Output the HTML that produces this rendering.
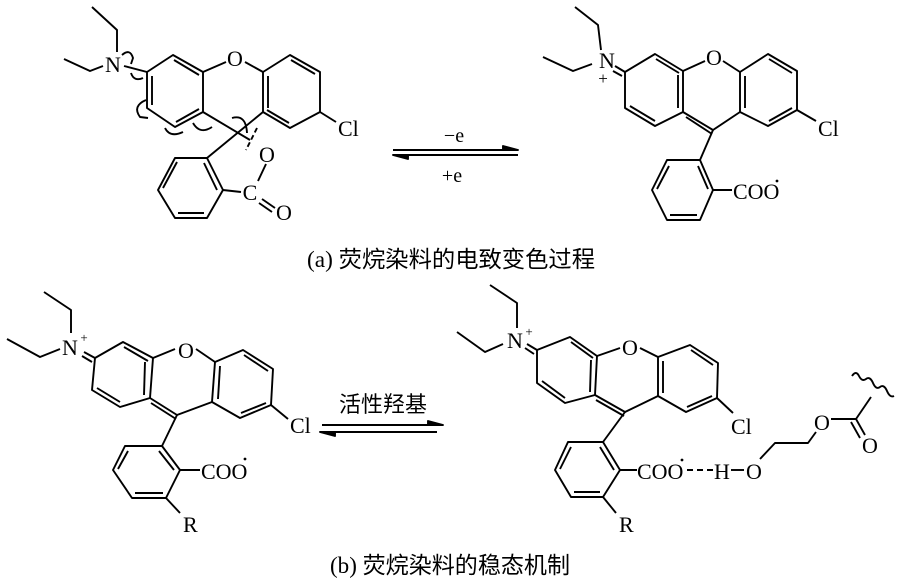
<!DOCTYPE html>
<html><head><meta charset="utf-8"><style>
html,body{margin:0;padding:0;background:#fff;}
svg{display:block;}
text{font-family:"Liberation Serif","Noto Serif CJK SC",serif;fill:#000;}
.c{font-family:"Liberation Serif","Noto Sans CJK SC",sans-serif;}
</style></head><body>
<svg width="900" height="587" viewBox="0 0 900 587" xmlns="http://www.w3.org/2000/svg">
<g stroke="#000" stroke-width="1.9" fill="none" stroke-linejoin="round">
<!-- ===== top-left molecule ===== -->
<polyline points="92,7 117,30 117,52"/>
<polyline points="64,59 90,71 103,66"/>
<line x1="124" y1="66" x2="147" y2="72"/>
<polygon points="147,72 173,55 203,72 203,112 175,127 147,108"/>
<line x1="152" y1="76" x2="152" y2="105"/>
<line x1="174" y1="60" x2="199" y2="75"/>
<line x1="176" y1="122" x2="199" y2="109"/>
<line x1="203" y1="72" x2="226" y2="62"/>
<line x1="245" y1="62" x2="263" y2="72"/>
<polygon points="263,72 290,55 320,72 320,112 290,128 263,112"/>
<line x1="268" y1="76" x2="268" y2="108"/>
<line x1="291" y1="60" x2="315" y2="74"/>
<line x1="289" y1="123" x2="267" y2="110"/>
<line x1="320" y1="112" x2="336" y2="122"/>
<line x1="203" y1="112" x2="250" y2="140"/>
<line x1="263" y1="112" x2="207" y2="158"/>
<line x1="257" y1="128" x2="246" y2="150" stroke-dasharray="5,3"/>
<polygon points="175,158 207,158 223,190 207,218 175,218 158,190"/>
<line x1="163" y1="188" x2="177" y2="162"/>
<line x1="217" y1="190" x2="204" y2="163"/>
<line x1="178" y1="213" x2="204" y2="213"/>
<line x1="223" y1="190" x2="241" y2="192"/>
<line x1="266" y1="164" x2="258" y2="181"/>
<line x1="262" y1="199" x2="275" y2="208"/>
<line x1="259" y1="203" x2="272" y2="212"/>
<path d="M122,55 Q130,48 133,58 L131,64"/>
<path d="M131,73 Q134,82 143,78"/>
<path d="M146,100 Q132,106 140,117 L148,118"/>
<path d="M165,128 Q170,138 183,132"/>
<path d="M193,123 Q200,135 212,127"/>
<path d="M232,118 Q246,114 247,133"/>
<!-- arrows a -->
<line x1="393" y1="150" x2="517" y2="150"/>
<path d="M503,146 L518,150 L503,150Z" fill="#000"/>
<line x1="394" y1="155" x2="518" y2="155"/>
<path d="M408,159 L393,155 L408,155Z" fill="#000"/>
<!-- ===== top-right molecule ===== -->
<polyline points="575,7 598,25 601,50"/>
<polyline points="543,57 573,71 592,64"/>
<line x1="615" y1="66" x2="625" y2="72"/>
<line x1="613" y1="71" x2="622" y2="76"/>
<polygon points="625,72 655,54 683,71 683,112 655,126 625,108"/>
<line x1="656" y1="59" x2="679" y2="73"/>
<line x1="678" y1="75" x2="678" y2="108"/>
<line x1="630" y1="106" x2="655" y2="121"/>
<line x1="683" y1="71" x2="705" y2="61"/>
<line x1="723" y1="61" x2="740" y2="72"/>
<polygon points="740,72 768,54 797,71 797,110 768,126 740,112"/>
<line x1="745" y1="76" x2="745" y2="108"/>
<line x1="769" y1="59" x2="792" y2="73"/>
<line x1="792" y1="108" x2="769" y2="121"/>
<polyline points="683,112 713,130 740,112"/>
<line x1="686" y1="117" x2="712" y2="134"/>
<line x1="797" y1="110" x2="816" y2="121"/>
<line x1="713" y1="130" x2="700" y2="160"/>
<polygon points="667,160 700,160 713,190 700,220 667,220 652,190"/>
<line x1="698" y1="166" x2="708" y2="189"/>
<line x1="670" y1="215" x2="697" y2="215"/>
<line x1="657" y1="189" x2="669" y2="166"/>
<line x1="713" y1="190" x2="732" y2="190"/>
<!-- ===== bottom-left molecule ===== -->
<polyline points="44,292 71,310 71,333"/>
<polyline points="7,339 40,357 60,349"/>
<line x1="84" y1="352" x2="95" y2="358"/>
<line x1="82" y1="356" x2="92" y2="362"/>
<polygon points="95,358 123,342 153,358 150,398 120,407 92,390"/>
<line x1="124" y1="347" x2="148" y2="361"/>
<line x1="145" y1="362" x2="144" y2="395"/>
<line x1="97" y1="388" x2="120" y2="402"/>
<line x1="153" y1="358" x2="175" y2="349"/>
<line x1="196" y1="349" x2="215" y2="362"/>
<polygon points="215,362 243,350 273,369 271,405 240,418 212,402"/>
<line x1="220" y1="366" x2="218" y2="399"/>
<line x1="244" y1="355" x2="268" y2="371"/>
<line x1="266" y1="403" x2="241" y2="413"/>
<polyline points="150,398 177,415 212,402"/>
<line x1="151" y1="403" x2="176" y2="419"/>
<line x1="271" y1="405" x2="288" y2="419"/>
<line x1="177" y1="415" x2="162" y2="446"/>
<polygon points="125,446 162,446 180,470 166,498 132,498 113,470"/>
<line x1="159" y1="451" x2="174" y2="470"/>
<line x1="135" y1="493" x2="163" y2="493"/>
<line x1="118" y1="469" x2="128" y2="451"/>
<line x1="180" y1="470" x2="200" y2="470"/>
<line x1="166" y1="498" x2="180" y2="513"/>
<!-- arrows b -->
<line x1="322" y1="425" x2="442" y2="425"/>
<path d="M428,421 L443,425 L428,425Z" fill="#000"/>
<line x1="321" y1="432" x2="437" y2="432"/>
<path d="M335,436 L320,432 L335,432Z" fill="#000"/>
<!-- ===== bottom-right molecule ===== -->
<polyline points="490,285 517,303 517,328"/>
<polyline points="457,332 485,352 503,344"/>
<line x1="527" y1="344" x2="537" y2="350"/>
<line x1="525" y1="348" x2="534" y2="354"/>
<polygon points="537,350 570,337 597,356 595,395 565,403 537,383"/>
<line x1="571" y1="342" x2="593" y2="358"/>
<line x1="591" y1="360" x2="590" y2="392"/>
<line x1="542" y1="381" x2="565" y2="398"/>
<line x1="597" y1="356" x2="620" y2="348"/>
<line x1="640" y1="348" x2="658" y2="357"/>
<polygon points="658,357 690,345 718,363 717,398 686,412 658,396"/>
<line x1="663" y1="361" x2="663" y2="393"/>
<line x1="691" y1="350" x2="713" y2="365"/>
<line x1="712" y1="396" x2="687" y2="407"/>
<polyline points="595,395 625,412 658,396"/>
<line x1="596" y1="400" x2="624" y2="416"/>
<line x1="717" y1="398" x2="733" y2="413"/>
<line x1="625" y1="412" x2="603" y2="442"/>
<polygon points="568,442 603,442 620,470 603,497 571,497 555,470"/>
<line x1="600" y1="447" x2="614" y2="470"/>
<line x1="574" y1="492" x2="600" y2="492"/>
<line x1="560" y1="469" x2="571" y2="447"/>
<line x1="620" y1="470" x2="637" y2="470"/>
<line x1="603" y1="497" x2="616" y2="513"/>
<line x1="687" y1="470" x2="714" y2="470" stroke-dasharray="6,4"/>
<line x1="731" y1="470" x2="744" y2="470"/>
<polyline points="760,459 775,443 808,443 816,432"/>
<line x1="831" y1="419" x2="856" y2="419"/>
<line x1="856" y1="419" x2="871" y2="397"/>
<line x1="856" y1="419" x2="865" y2="435"/>
<line x1="851" y1="422" x2="860" y2="438"/>
<path d="M852,376 q4,-6 7,0 t7,3 t7,4 t7,4 t7,4 t7,5"/>
</g>
<g font-size="22">
<text x="113" y="72" text-anchor="middle">N</text>
<text x="235" y="66" text-anchor="middle">O</text>
<text x="338" y="136">Cl</text>
<text x="267" y="162" text-anchor="middle">O</text>
<text x="250" y="200" text-anchor="middle">C</text>
<text x="284" y="220" text-anchor="middle">O</text>
<text x="454" y="142" text-anchor="middle" font-size="20">−e</text>
<text x="452" y="182" text-anchor="middle" font-size="20">+e</text>
<text x="607" y="68" text-anchor="middle">N</text>
<text x="603" y="84" text-anchor="middle" font-size="17">+</text>
<text x="714" y="65" text-anchor="middle">O</text>
<text x="818" y="136">Cl</text>
<text x="733" y="199">COO</text>
<circle cx="777" cy="181" r="1.4" fill="#000"/>
<text class="c" x="307" y="267" font-size="23" textLength="288" lengthAdjust="spacingAndGlyphs">(a)  荧烷染料的电致变色过程</text>
<text x="70" y="355" text-anchor="middle">N</text>
<text x="84" y="342" text-anchor="middle" font-size="13">+</text>
<text x="186" y="358" text-anchor="middle">O</text>
<text x="290" y="433">Cl</text>
<text x="201" y="479">COO</text>
<circle cx="245" cy="459" r="1.4" fill="#000"/>
<text x="183" y="532">R</text>
<text class="c" x="383" y="412" text-anchor="middle" font-size="22">活性羟基</text>
<text x="515" y="348" text-anchor="middle">N</text>
<text x="529" y="336" text-anchor="middle" font-size="13">+</text>
<text x="630" y="355" text-anchor="middle">O</text>
<text x="731" y="434">Cl</text>
<text x="637" y="479">COO</text>
<circle cx="682" cy="460" r="1.4" fill="#000"/>
<text x="714" y="479">H</text>
<text x="754" y="479" text-anchor="middle">O</text>
<text x="822" y="430" text-anchor="middle">O</text>
<text x="870" y="453" text-anchor="middle">O</text>
<text x="619" y="532">R</text>
<text class="c" x="330" y="573" font-size="23" textLength="240" lengthAdjust="spacingAndGlyphs">(b)  荧烷染料的稳态机制</text>
</g>
</svg>
</body></html>
